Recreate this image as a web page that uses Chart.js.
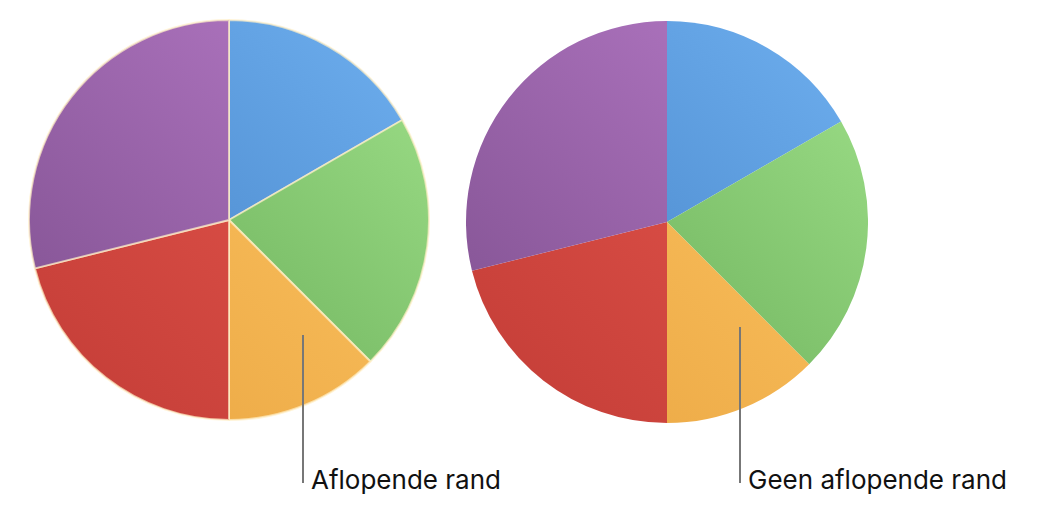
<!DOCTYPE html>
<html><head><meta charset="utf-8">
<script src="https://cdn.jsdelivr.net/npm/chart.js@4/dist/chart.umd.min.js"></script>
<style>
body{margin:0;width:1037px;height:508px;background:#fff;position:relative;overflow:hidden;font-family:Inter,Roboto,sans-serif}
.c{position:absolute;width:402px;height:402px}
.line{position:absolute;width:2px;background:#777}
.lbl{position:absolute;font-size:26px;color:#111}
</style></head><body>
<div class="c" style="left:28px;top:19px"><canvas id="a"></canvas></div>
<div class="c" style="left:466px;top:21px"><canvas id="b"></canvas></div>
<div class="line" style="left:302px;top:335px;height:148px"></div>
<div class="line" style="left:739px;top:327px;height:156px"></div>
<div class="lbl" style="left:311px;top:464px">Aflopende rand</div>
<div class="lbl" style="left:748px;top:464px">Geen aflopende rand</div>
<script>
const categories=["Blauw","Groen","Oranje","Rood","Paars"];
const values=[60,75,45,76,104];
const light=["#6fb0f0","#9fe08a","#ffc866","#ea5a50","#b77bc8"];
const dark=["#3f7cc0","#5fa44e","#e9a440","#c23c36","#7e4f8e"];
function make(id,bevel){
  new Chart(document.getElementById(id),{type:'pie',
    data:{labels:categories,datasets:[{data:values,
      backgroundColor:(ctx)=>{const ch=ctx.chart,a=ch.chartArea;if(!a)return light[ctx.dataIndex];
        const g=ch.ctx.createLinearGradient(a.right,a.top,a.left,a.bottom);
        g.addColorStop(0,light[ctx.dataIndex]);g.addColorStop(1,dark[ctx.dataIndex]);return g;},
      borderColor:bevel?"rgba(255,240,200,0.7)":"rgba(0,0,0,0)",borderWidth:bevel?2:0}]},
    options:{responsive:true,maintainAspectRatio:false,animation:false,
      layout:{padding:0},plugins:{legend:{display:false},tooltip:{enabled:false}}}});
}
make('a',true);make('b',false);
</script></body></html>
